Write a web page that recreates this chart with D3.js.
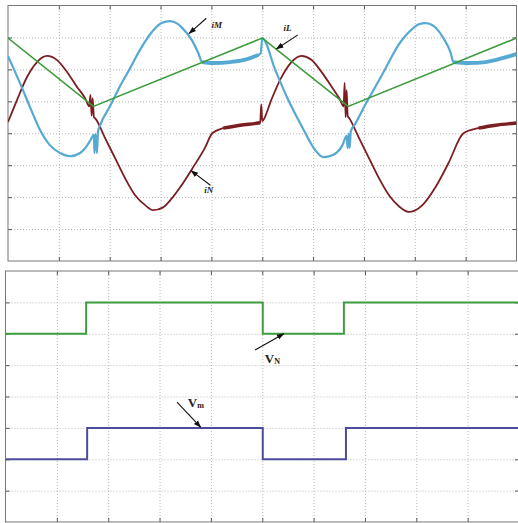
<!DOCTYPE html>
<html>
<head>
<meta charset="utf-8">
<script src="https://cdn.jsdelivr.net/npm/d3@7"></script>
<style>
  body { margin: 0; background: #fff; }
  .grid line { stroke: #b8b8b8; stroke-dasharray: 1,2; }
  .grid path { display: none; }
  .ticks path { display: none; }
  .ticks line { stroke: #555; }
  .lbl { font-family: "Liberation Serif", "DejaVu Serif", serif; font-weight: bold; fill: #222; }
</style>
</head>
<body>
<div id="chart"></div>
<script>
const width = 518;
const height = 523;

// top panel currents (time in grid divisions, value in grid divisions)
const iL = [[0, 2.98], [1.68, 0.84], [5.0, 2.98], [6.69, 0.84], [10, 2.98]];

const iM = [[0, 2.42], [0.098, 2.07], [0.236, 1.57], [0.433, 0.82], [0.63, 0.1], [0.827, -0.38],
  [1.024, -0.62], [1.22, -0.72], [1.417, -0.62], [1.516, -0.47], [1.62, -0.22], [1.69, -0.05],
  [1.70, -0.62], [1.72, -0.02], [1.75, -0.62], [1.77, 0.05], [1.811, 0.25], [2.008, 0.85],
  [2.205, 1.48], [2.402, 2.04], [2.598, 2.62], [2.854, 3.22], [3.02, 3.45], [3.189, 3.51],
  [3.33, 3.43], [3.425, 3.3], [3.622, 2.9], [3.74, 2.52], [3.819, 2.23], [4.035, 2.2],
  [4.37, 2.23], [4.705, 2.32], [4.921, 2.45], [4.97, 2.5], [5.0, 2.98], [5.256, 1.98],
  [5.512, 1.04], [5.787, 0.19], [6.043, -0.53], [6.201, -0.75], [6.378, -0.69], [6.575, -0.38],
  [6.66, -0.08], [6.68, -0.47], [6.70, -0.02], [6.72, -0.45], [6.74, 0.05], [6.831, 0.3],
  [7.028, 0.9], [7.283, 1.62], [7.421, 2.02], [7.52, 2.32], [7.677, 2.76], [7.953, 3.27],
  [8.08, 3.41], [8.209, 3.45], [8.33, 3.4], [8.406, 3.31], [8.563, 2.98], [8.701, 2.54],
  [8.76, 2.23], [9.055, 2.2], [9.39, 2.23], [9.724, 2.35], [10, 2.48]];

const iN = [[0, 0.35], [0.177, 1.04], [0.374, 1.76], [0.571, 2.23], [0.768, 2.42], [0.965, 2.29],
  [1.161, 1.92], [1.358, 1.45], [1.516, 1.1], [1.60, 0.84], [1.62, 1.2], [1.645, 0.55],
  [1.665, 1.1], [1.69, 0.5], [1.713, 0.47], [1.909, -0.15], [2.106, -0.78], [2.303, -1.41],
  [2.5, -1.94], [2.697, -2.25], [2.854, -2.41], [3.051, -2.32], [3.189, -2.1], [3.386, -1.69],
  [3.642, -1.06], [3.878, -0.44], [4.016, 0], [4.232, 0.16], [4.567, 0.25], [4.921, 0.32],
  [4.96, 0.33], [4.98, 0.9], [5.0, 0.38], [5.02, 0.41], [5.177, 1.04], [5.374, 1.74],
  [5.571, 2.22], [5.768, 2.42], [5.965, 2.3], [6.161, 1.93], [6.358, 1.47], [6.52, 1.08],
  [6.60, 0.84], [6.62, 1.58], [6.64, 0.5], [6.66, 1.35], [6.68, 0.55], [6.72, 0.45],
  [6.909, -0.17], [7.106, -0.8], [7.303, -1.43], [7.5, -1.96], [7.697, -2.3], [7.874, -2.46],
  [8.0, -2.42], [8.15, -2.25], [8.406, -1.69], [8.661, -0.94], [8.957, 0], [9.252, 0.16],
  [9.587, 0.25], [10, 0.32]];

// time ranges where the traces are drawn heavier
const iMThick = [[3.82, 4.96], [8.76, 10]];
const iNThick = [[4.02, 4.96], [8.96, 10]];

// bottom panel gate voltages (step after)
const VN = [[0, 2], [1.57, 3], [5.01, 2], [6.59, 3], [10, 3]];
const Vm = [[0, -2], [1.59, -1], [5.01, -2], [6.63, -1], [10, -1]];

const svg = d3.select("#chart").append("svg")
  .attr("width", width).attr("height", height)
  .style("background-color", "#FFFFFF");

svg.append("defs").append("marker")
  .attr("id", "arr").attr("viewBox", "0 0 10 10")
  .attr("refX", 9).attr("refY", 5)
  .attr("markerWidth", 7).attr("markerHeight", 7)
  .attr("orient", "auto")
  .append("path").attr("d", "M0,1.5L10,5L0,8.5Z").attr("fill", "#111");

function panel(x0, x1, y0, y1) {
  const x = d3.scaleLinear().domain([0, 10]).range([x0, x1]);
  const y = d3.scaleLinear().domain([-4, 4]).range([y1, y0]);
  const g = svg.append("g");
  const xt = d3.range(1, 10), yt = d3.range(-3, 4);
  // grid
  g.append("g").attr("class", "grid").attr("transform", "translate(0," + y1 + ")")
    .call(d3.axisBottom(x).tickValues(xt).tickSize(-(y1 - y0)).tickFormat(""));
  g.append("g").attr("class", "grid").attr("transform", "translate(" + x0 + ",0)")
    .call(d3.axisLeft(y).tickValues(yt).tickSize(-(x1 - x0)).tickFormat(""));
  // inward ticks on all sides
  g.append("g").attr("class", "ticks").attr("transform", "translate(0," + y1 + ")")
    .call(d3.axisBottom(x).tickValues(xt).tickSize(-4).tickFormat(""));
  g.append("g").attr("class", "ticks").attr("transform", "translate(0," + y0 + ")")
    .call(d3.axisTop(x).tickValues(xt).tickSize(-4).tickFormat(""));
  g.append("g").attr("class", "ticks").attr("transform", "translate(" + x0 + ",0)")
    .call(d3.axisLeft(y).tickValues(yt).tickSize(-4).tickFormat(""));
  g.append("g").attr("class", "ticks").attr("transform", "translate(" + x1 + ",0)")
    .call(d3.axisRight(y).tickValues(yt).tickSize(-4).tickFormat(""));
  g.append("rect").attr("x", x0).attr("y", y0)
    .attr("width", x1 - x0).attr("height", y1 - y0)
    .attr("fill", "none").attr("stroke", "#777").attr("stroke-width", 1);
  const clipId = "clip" + Math.round(y0);
  svg.append("clipPath").attr("id", clipId).append("rect")
    .attr("x", x0).attr("y", y0).attr("width", x1 - x0).attr("height", y1 - y0);
  const plot = svg.append("g").attr("clip-path", "url(#" + clipId + ")");
  return { x, y, plot };
}

// top panel
const topP = panel(8, 516.5, 5.5, 261);
const smooth = d3.line().x(d => topP.x(d[0])).y(d => topP.y(d[1]))
  .curve(d3.curveMonotoneX);

function trace(data, color, w, thick) {
  topP.plot.append("path").datum(data).attr("d", smooth)
    .attr("fill", "none").attr("stroke", color).attr("stroke-width", w)
    .attr("stroke-linejoin", "round");
  (thick || []).forEach(r => {
    const part = data.filter(d => d[0] >= r[0] - 0.001 && d[0] <= r[1] + 0.001);
    topP.plot.append("path").datum(part).attr("d", smooth)
      .attr("fill", "none").attr("stroke", color).attr("stroke-width", w + 1.6);
  });
}
trace(iN, "#7a1e22", 1.8, iNThick);
trace(iM, "#55a9d3", 2.2, iMThick);
topP.plot.append("path").datum(iL)
  .attr("d", d3.line().x(d => topP.x(d[0])).y(d => topP.y(d[1])))
  .attr("fill", "none").attr("stroke", "#3a9c3a").attr("stroke-width", 1.6);

// bottom panel
const botP = panel(5.5, 519, 271, 522);
const step = d3.line().x(d => botP.x(d[0])).y(d => botP.y(d[1])).curve(d3.curveStepAfter);
botP.plot.append("path").datum(VN).attr("d", step)
  .attr("fill", "none").attr("stroke", "#3e9e3e").attr("stroke-width", 2);
botP.plot.append("path").datum(Vm).attr("d", step)
  .attr("fill", "none").attr("stroke", "#4d4b9c").attr("stroke-width", 2);

// annotations
function arrow(p, a, b) {
  svg.append("line")
    .attr("x1", p.x(a[0])).attr("y1", p.y(a[1]))
    .attr("x2", p.x(b[0])).attr("y2", p.y(b[1]))
    .attr("stroke", "#111").attr("stroke-width", 1.1)
    .attr("marker-end", "url(#arr)");
}
function label(p, at, main, sub, size) {
  const t = svg.append("text").attr("class", "lbl")
    .attr("x", p.x(at[0])).attr("y", p.y(at[1]))
    .style("font-size", size + "px");
  if (size < 11) t.style("font-style", "italic");
  t.append("tspan").text(main);
  if (sub) t.append("tspan").text(sub).style("font-size", (size * 0.62) + "px").attr("dy", 1);
}
arrow(topP, [3.9, 3.6], [3.56, 3.12]);
label(topP, [4.0, 3.29], "iM", null, 9);
arrow(topP, [5.7, 3.08], [5.28, 2.64]);
label(topP, [5.42, 3.2], "iL", null, 9);
arrow(topP, [3.98, -1.63], [3.6, -1.17]);
label(topP, [3.86, -1.88], "iN", null, 9);

arrow(botP, [4.86, 1.48], [5.42, 2.0]);
label(botP, [5.05, 1.07], "V", "N", 13);
arrow(botP, [3.34, -0.18], [3.8, -0.98]);
label(botP, [3.55, -0.33], "V", "m", 13);
</script>
</body>
</html>
